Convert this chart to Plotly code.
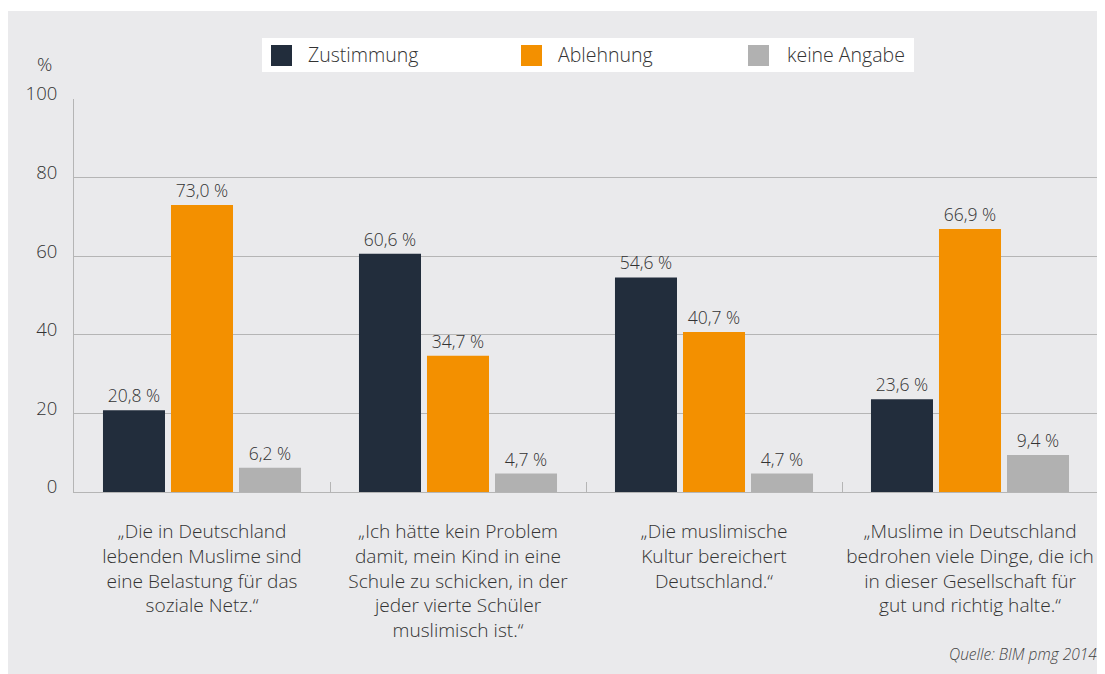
import plotly.graph_objects as go

categories = [
    "„Die in Deutschland<br>lebenden Muslime sind<br>eine Belastung für das<br>soziale Netz.“",
    "„Ich hätte kein Problem<br>damit, mein Kind in eine<br>Schule zu schicken, in der<br>jeder vierte Schüler<br>muslimisch ist.“",
    "„Die muslimische<br>Kultur bereichert<br>Deutschland.“",
    "„Muslime in Deutschland<br>bedrohen viele Dinge, die ich<br>in dieser Gesellschaft für<br>gut und richtig halte.“",
]
series_names = ["Zustimmung", "Ablehnung", "keine Angabe"]
zustimmung = [20.8, 60.6, 54.6, 23.6]
ablehnung = [73.0, 34.7, 40.7, 66.9]
keine_angabe = [6.2, 4.7, 4.7, 9.4]
colors = ["#222D3C", "#F39000", "#B1B1B1"]
y_ticks = [0, 20, 40, 60, 80, 100]

FONT = "Open Sans"
W8 = 300
TXT = "#333333"
GRID = "#B5B5B5"

# figure sits 8px in from the page edge (body margin)
W, H = 1097, 666
L, R, T, B = 66, 7, 91, 182
PW, PH = W - L - R, H - T - B


def px(xf):
    return (xf - L) / PW


def py(yf):
    return (H - B - yf) / PH


fig = go.Figure()
for name, vals, col in zip(series_names, [zustimmung, ablehnung, keine_angabe], colors):
    fig.add_trace(go.Bar(
        x=categories, y=vals, name=name, marker_color=col, marker_line_width=0,
        texttemplate="%{y:.1f} %", textposition="outside", cliponaxis=False,
        textfont=dict(family=FONT, size=17.5, color=TXT, weight=W8),
        showlegend=False,
    ))

# legend box (drawn with shapes/annotations so keys match the reference size)
leg_box = (254, 30, 906, 64)
key_x = [263, 513, 740]
key_size = 21
key_y = 37
text_x = [300, 550, 779]

shapes = [dict(type="rect", xref="paper", yref="paper", layer="below",
               x0=px(-2), x1=px(W + 10), y0=py(H + 10), y1=py(3),
               fillcolor="#EAEAEC", line_width=0),
          dict(type="rect", xref="paper", yref="paper",
               x0=px(leg_box[0]), x1=px(leg_box[2]), y0=py(leg_box[3]), y1=py(leg_box[1]),
               fillcolor="white", line_width=0)]
annotations = []
for name, col, kx, tx in zip(series_names, colors, key_x, text_x):
    shapes.append(dict(type="rect", xref="paper", yref="paper",
                       x0=px(kx), x1=px(kx + key_size), y0=py(key_y + key_size), y1=py(key_y),
                       fillcolor=col, line_width=0))
    annotations.append(dict(text=name, xref="paper", yref="paper", x=px(tx - 2), y=py(46.5),
                            xanchor="left", yanchor="middle", showarrow=False,
                            font=dict(family=FONT, size=19.5, color=TXT, weight=W8)))

annotations += [
    dict(text="%", xref="paper", yref="paper", x=px(36), y=py(56),
         xanchor="center", yanchor="middle",
         showarrow=False, font=dict(family=FONT, size=19, color=TXT, weight=W8)),
    dict(text="<i>Quelle: BIM pmg 2014</i>", xref="paper", yref="paper",
         x=px(1091), y=py(646), xanchor="right", yanchor="middle",
         showarrow=False, font=dict(family=FONT, size=15.5, color="#444444", weight=W8)),
]

fig.update_layout(
    width=W, height=H, autosize=False,
    margin=dict(l=L, r=R, t=T, b=B, autoexpand=False),
    paper_bgcolor="white", plot_bgcolor="rgba(0,0,0,0)",
    barmode="group", bargap=0.203, bargroupgap=0.088,
    separators=",.",
    showlegend=False,
    font=dict(family=FONT, color=TXT, weight=W8),
    shapes=shapes,
    annotations=annotations,
)
fig.update_yaxes(range=[0, 100], tickvals=y_ticks, showgrid=True, gridcolor=GRID, gridwidth=1,
                 showline=True, linecolor=GRID, linewidth=1, zeroline=False, automargin=False,
                 tickfont=dict(family=FONT, size=18.5, color=TXT, weight=W8), ticklabelstandoff=12,
                 ticklabelshift=-5)
fig.update_xaxes(showgrid=False, showline=True, linecolor=GRID, linewidth=1, automargin=False,
                 ticks="inside", tickson="boundaries", ticklen=10, tickcolor=GRID, tickangle=0,
                 tickfont=dict(family=FONT, size=19.1, color=TXT, weight=W8), ticklabelstandoff=22)

fig.write_html("out.html")
